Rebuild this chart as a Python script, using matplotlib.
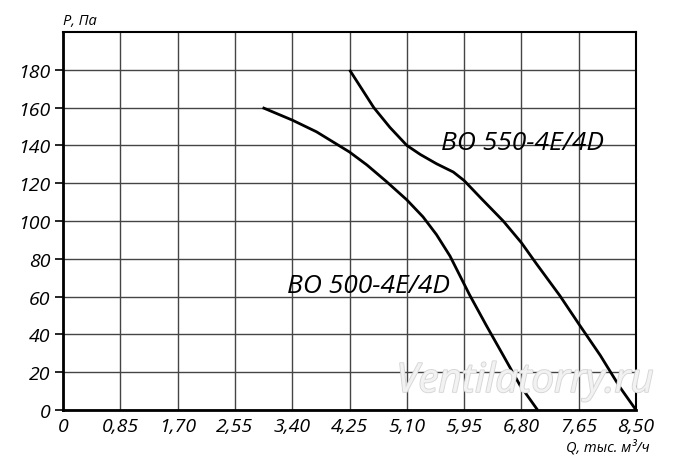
import matplotlib
matplotlib.use("Agg")
import matplotlib.pyplot as plt
import matplotlib.patheffects as pe

plt.rcParams['font.family'] = ['Open Sans', 'DejaVu Sans']

# оси
x_ticks = [0, 0.85, 1.70, 2.55, 3.40, 4.25, 5.10, 5.95, 6.80, 7.65, 8.50]
x_labels = ['0', '0,85', '1,70', '2,55', '3,40', '4,25', '5,10', '5,95', '6,80', '7,65', '8,50']
y_ticks = [0, 20, 40, 60, 80, 100, 120, 140, 160, 180]

# BO 550-4E/4D
q_550 = [4.25, 4.61, 4.85, 5.10, 5.30, 5.54, 5.79, 5.95, 6.21, 6.53, 6.80, 7.02, 7.37, 7.65, 7.97, 8.26, 8.50]
p_550 = [180, 160, 149.5, 140, 135.2, 130.3, 125.9, 121.4, 111.7, 100, 88.5, 77.5, 60.5, 45.6, 28.9, 12.1, 0]

# BO 500-4E/4D
q_500 = [2.96, 3.40, 3.76, 4.25, 4.51, 4.80, 5.10, 5.34, 5.54, 5.74, 6.03, 6.28, 6.53, 6.78, 7.04]
p_500 = [160, 153.4, 147.2, 136.5, 129.6, 120.8, 111.2, 102.2, 92.8, 81.5, 61.0, 44.7, 28.9, 13.0, 0]

fig = plt.figure(figsize=(7, 4.64), dpi=100)
ax = fig.add_axes([0.09, 0.1142, 0.8186, 0.8147])

ax.set_xlim(0, 8.5)
ax.set_ylim(0, 200)
ax.set_xticks(x_ticks)
ax.set_xticklabels(x_labels, style='italic', fontsize=14)
ax.set_yticks(y_ticks)
ax.set_yticklabels([str(v) for v in y_ticks], style='italic', fontsize=14)
ax.tick_params(axis='x', length=0, pad=5)
ax.tick_params(axis='y', length=6, width=1.2, pad=3)
ax.grid(True, color='#444444', linewidth=1.0)
ax.set_axisbelow(True)

for s in ['left', 'bottom']:
    ax.spines[s].set_linewidth(2.0)
for s in ['top', 'right']:
    ax.spines[s].set_linewidth(1.5)

ax.plot(q_550, p_550, color='black', linewidth=2.0, solid_capstyle='butt')
ax.plot(q_500, p_500, color='black', linewidth=2.0, solid_capstyle='butt')

ax.text(5.60, 141.5, 'BO 550-4E/4D', style='italic', fontsize=19, va='center', ha='left')
ax.text(3.32, 66, 'BO 500-4E/4D', style='italic', fontsize=19, va='center', ha='left')

ax.text(0.0, 1.01, 'P, Па', transform=ax.transAxes, style='italic', fontsize=10.5, ha='left', va='bottom')
ax.text(1.024, -0.077, 'Q, тыс. м³/ч', transform=ax.transAxes, style='italic', fontsize=10.5, ha='right', va='top')

ax.text(6.85, 15, 'Ventilatorry.ru', style='italic', fontsize=29, ha='center', va='center',
        color='#f2f2f2', zorder=5,
        path_effects=[pe.withStroke(linewidth=1.3, foreground='#d6d6d6')])

fig.savefig('out.png', dpi=100)
